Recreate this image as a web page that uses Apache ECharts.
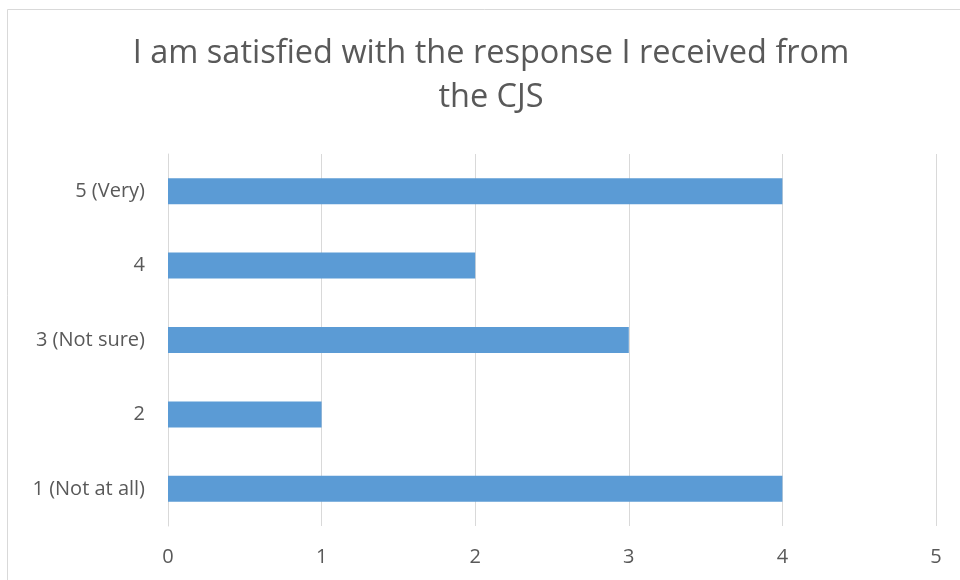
<!DOCTYPE html>
<html><head><meta charset="utf-8">
<script src="https://cdn.jsdelivr.net/npm/echarts@6/dist/echarts.min.js"></script>
<style>html,body{margin:0;padding:0;background:#fff}#c{width:960px;height:580px}</style>
</head><body><div id="c"></div>
<script>
const titleText = 'I am satisfied with the response I received from\nthe CJS';
const categories = ['1 (Not at all)', '2', '3 (Not sure)', '4', '5 (Very)'];
const counts = [4, 1, 3, 2, 4];
const xTicks = [0, 1, 2, 3, 4, 5];

const font = 'Open Sans';
const chart = echarts.init(document.getElementById('c'), null, {renderer: 'canvas'});
chart.setOption({
  backgroundColor: '#fff',
  animation: false,
  graphic: [{
    type: 'rect', shape: {x: 7.5, y: 9.5, width: 1000, height: 700},
    style: {fill: 'none', stroke: '#d9d9d9', lineWidth: 1}, silent: true
  }],
  title: {
    text: titleText, left: 486, top: 27, textAlign: 'center',
    textStyle: {fontFamily: font, fontSize: 32.5, lineHeight: 44, fontWeight: 'normal', color: '#595959'}
  },
  grid: {left: 168, right: 24, top: 154, bottom: 54, containLabel: false},
  xAxis: {
    type: 'value', min: xTicks[0], max: xTicks[xTicks.length - 1], interval: 1,
    axisLine: {show: false}, axisTick: {show: false},
    splitLine: {show: true, lineStyle: {color: '#d9d9d9', width: 1}},
    axisLabel: {fontFamily: font, fontSize: 20, color: '#595959', margin: 21}
  },
  yAxis: {
    type: 'category', data: categories,
    axisLine: {show: true, lineStyle: {color: '#d9d9d9', width: 1}},
    axisTick: {show: false},
    axisLabel: {fontFamily: font, fontSize: 20, color: '#595959', margin: 23}
  },
  series: [{
    type: 'bar', data: counts, barWidth: '35%',
    itemStyle: {color: '#5b9bd5'}
  }]
});
</script></body></html>
